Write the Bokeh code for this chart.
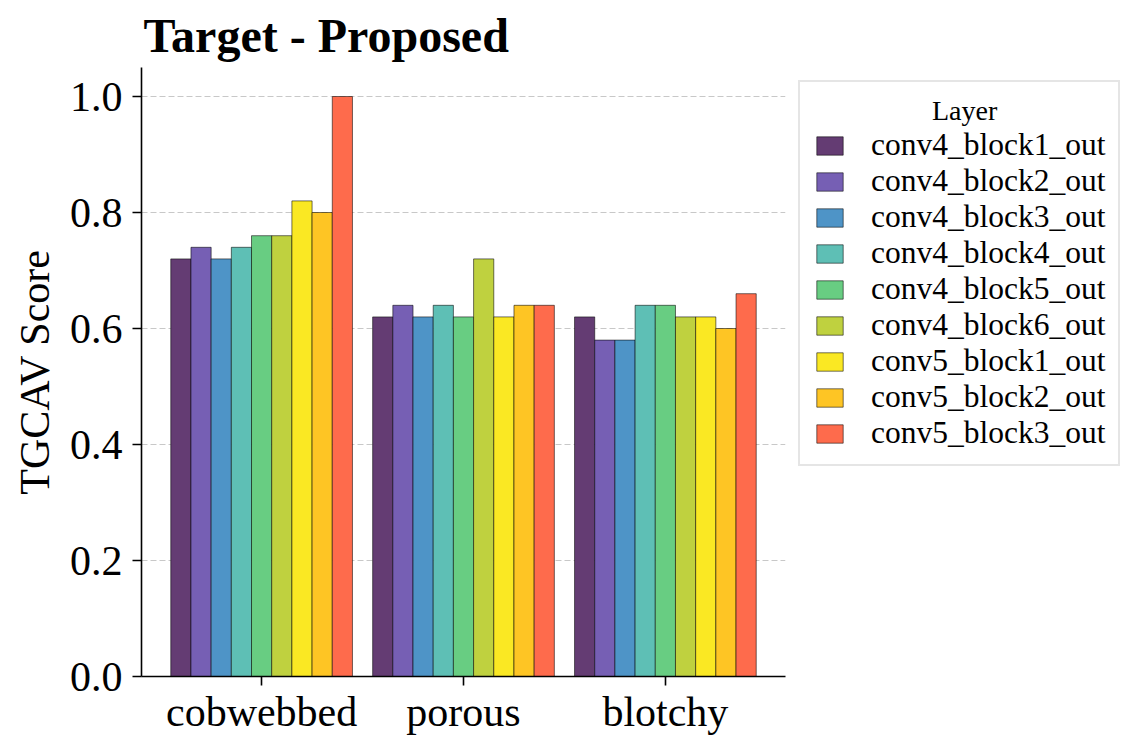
from bokeh.plotting import figure
from bokeh.models import (ColumnDataSource, Range1d, FixedTicker, Legend, LegendItem)
from bokeh.embed import file_html
from bokeh.resources import INLINE

categories = ["cobwebbed", "porous", "blotchy"]
layers = ["conv4_block1_out", "conv4_block2_out", "conv4_block3_out",
          "conv4_block4_out", "conv4_block5_out", "conv4_block6_out",
          "conv5_block1_out", "conv5_block2_out", "conv5_block3_out"]
conv4_block1_out = [0.72, 0.62, 0.62]
conv4_block2_out = [0.74, 0.64, 0.58]
conv4_block3_out = [0.72, 0.62, 0.58]
conv4_block4_out = [0.74, 0.64, 0.64]
conv4_block5_out = [0.76, 0.62, 0.64]
conv4_block6_out = [0.76, 0.72, 0.62]
conv5_block1_out = [0.82, 0.62, 0.62]
conv5_block2_out = [0.80, 0.64, 0.60]
conv5_block3_out = [1.00, 0.64, 0.66]
series = [conv4_block1_out, conv4_block2_out, conv4_block3_out,
          conv4_block4_out, conv4_block5_out, conv4_block6_out,
          conv5_block1_out, conv5_block2_out, conv5_block3_out]
colors = ["#643c73", "#765fb4", "#4e94c7", "#5ebfb5", "#68cd82",
          "#bfd13f", "#fae823", "#fec524", "#fe6b4c"]
legend_title = "Layer"

FONT = "Liberation Serif"
n = len(layers)
bar_w = 0.9 / n

p = figure(output_backend="svg", toolbar_location=None,
           frame_width=644, frame_height=609,
           x_range=Range1d(-0.595, 2.595), y_range=Range1d(0, 1.05),
           min_border_left=141, min_border_top=67, min_border_bottom=58,
           min_border_right=10)
p.outline_line_color = None
p.background_fill_color = "white"

items = []
for j, (name, vals, col) in enumerate(zip(layers, series, colors)):
    xs = [i + (j - (n - 1) / 2) * bar_w for i in range(len(categories))]
    src = ColumnDataSource(dict(x=xs, top=vals))
    r = p.vbar(x="x", top="top", bottom=0, width=bar_w, source=src,
               fill_color=col, line_color="black", line_alpha=0.55, line_width=1)
    items.append(LegendItem(label=name, renderers=[r]))

# title
p.title.text = "Target - Proposed"
p.title.text_font = FONT
p.title.text_font_size = "48px"
p.title.text_font_style = "bold"
p.title.text_color = "black"
p.title.text_line_height = 1.0
p.title.align = "left"
p.title.offset = 2
p.title.standoff = 11

# axes
p.xaxis.ticker = FixedTicker(ticks=list(range(len(categories))))
p.xaxis.major_label_overrides = {i: c for i, c in enumerate(categories)}
p.yaxis.ticker = FixedTicker(ticks=[0.0, 0.2, 0.4, 0.6, 0.8, 1.0])
p.yaxis.major_label_overrides = {0.0: "0.0", 0.2: "0.2", 0.4: "0.4", 0.6: "0.6", 0.8: "0.8", 1.0: "1.0"}
for ax in (p.xaxis, p.yaxis):
    ax.axis_line_width = 1.6
    ax.axis_line_color = "black"
    ax.major_tick_line_width = 1.6
    ax.major_tick_line_color = "black"
    ax.major_tick_out = 9
    ax.major_tick_in = 0
    ax.minor_tick_out = 0
    ax.minor_tick_in = 0
    ax.major_label_text_font = FONT
    ax.major_label_text_font_size = "42px"
    ax.major_label_text_color = "black"
p.xaxis.major_label_standoff = 3
p.yaxis.major_label_standoff = 10
p.yaxis.axis_label = "TGCAV Score"
p.yaxis.axis_label_text_font = FONT
p.yaxis.axis_label_text_font_size = "42px"
p.yaxis.axis_label_text_font_style = "normal"
p.yaxis.axis_label_text_color = "black"
p.yaxis.axis_label_standoff = 9

p.xgrid.visible = False
p.ygrid.grid_line_color = "#c8c8c8"
p.ygrid.grid_line_dash = "6 3"
p.ygrid.grid_line_width = 1

# non-breaking spaces centre the legend title over the entries
legend = Legend(items=items, location="top_left", title="\u00a0" * 17 + legend_title)
legend.title_text_font = FONT
legend.title_text_font_size = "28px"
legend.title_text_font_style = "normal"
legend.title_text_color = "black"
legend.title_standoff = 0
legend.label_text_font = FONT
legend.label_text_font_size = "31.5px"
legend.label_text_color = "black"
legend.glyph_width = 33
legend.glyph_height = 23
legend.label_standoff = 25
legend.spacing = 0
legend.padding = 13
legend.margin = 13
legend.border_line_color = "#cccccc"
legend.border_line_width = 2
legend.background_fill_color = "white"
legend.background_fill_alpha = 1.0
p.add_layout(legend, "right")

open("out.html", "w").write(file_html(p, INLINE))
